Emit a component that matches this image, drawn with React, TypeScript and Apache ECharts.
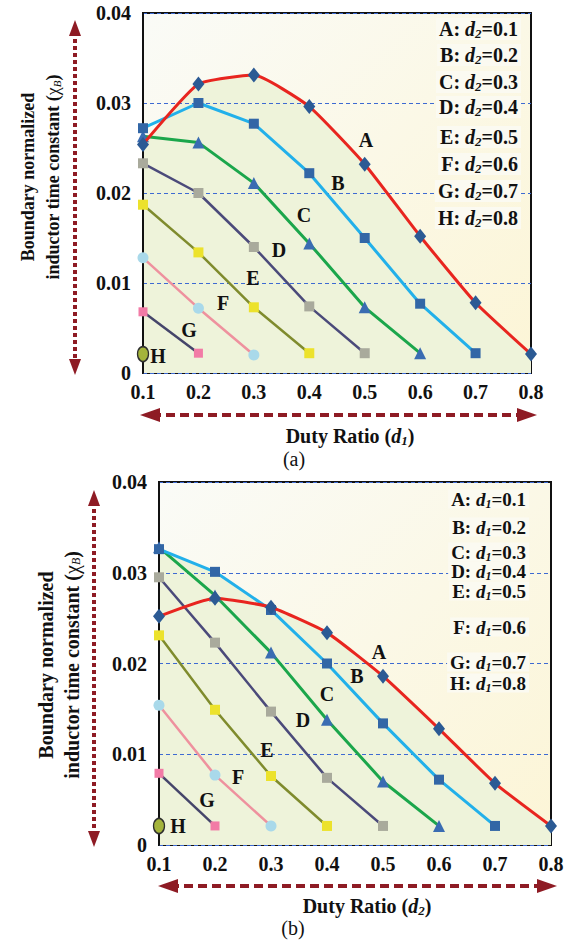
import React, { useEffect, useRef } from "react";
import * as echarts from "echarts";

// Duty ratio ticks (x axis)
const dTicks = [0.1, 0.2, 0.3, 0.4, 0.5, 0.6, 0.7, 0.8];
const curveNames = ["A", "B", "C", "D", "E", "F", "G", "H"];
const paramLabels = ["0.1", "0.2", "0.3", "0.4", "0.5", "0.6", "0.7", "0.8"];

// Chart (a): x = d1, curves by d2
const a_A = [0.0254, 0.0321, 0.0331, 0.0296, 0.0232, 0.0152, 0.0078, 0.0021];
const a_B = [0.0272, 0.03, 0.0277, 0.0222, 0.015, 0.0077, 0.0022];
const a_C = [0.0263, 0.0256, 0.0211, 0.0144, 0.0073, 0.0022];
const a_D = [0.0233, 0.02, 0.014, 0.0074, 0.0022];
const a_E = [0.0187, 0.0134, 0.0073, 0.0022];
const a_F = [0.0128, 0.0072, 0.002];
const a_G = [0.0068, 0.0022];
const a_H = [0.0021];

// Chart (b): x = d2, curves by d1
const b_A = [0.0252, 0.0272, 0.0262, 0.0234, 0.0186, 0.0128, 0.0068, 0.0021];
const b_B = [0.0326, 0.0301, 0.0259, 0.02, 0.0134, 0.0072, 0.0021];
const b_C = [0.0328, 0.0275, 0.0212, 0.0138, 0.007, 0.0021];
const b_D = [0.0295, 0.0223, 0.0147, 0.0074, 0.0021];
const b_E = [0.0231, 0.0149, 0.0076, 0.0021];
const b_F = [0.0154, 0.0077, 0.0021];
const b_G = [0.0079, 0.0021];
const b_H = [0.0021];

const chartA = [a_A, a_B, a_C, a_D, a_E, a_F, a_G, a_H];
const chartB = [b_A, b_B, b_C, b_D, b_E, b_F, b_G, b_H];

const SERIF = "'Liberation Serif', 'Times New Roman', serif";

const lineColors = ["#e8251f", "#22b0ea", "#1ba64b", "#4b4a7a", "#7f8b2d", "#ee919e", "#45456a", "#45456a"];
const lineWidths = [3, 3, 3, 2.5, 2.5, 2.5, 2.5, 2.5];
const markerStyles: any[] = [
  { symbol: "diamond", size: [12, 15], color: "#2b5a94" },
  { symbol: "rect", size: 10, color: "#3266a6" },
  { symbol: "triangle", size: 12, color: "#3a6cb2" },
  { symbol: "rect", size: 10, color: "#a9aa9c" },
  { symbol: "rect", size: 10, color: "#ece22c" },
  { symbol: "circle", size: 11, color: "#a9d9ea" },
  { symbol: "rect", size: 9, color: "#f27ba6" },
  { symbol: "circle", size: [11, 15], color: "#a4b43b", border: "#2e2e2e" },
];

function buildSeries(values: number[][], gridIdx: number, areaUnder: number[]) {
  const out: any[] = [];
  areaUnder.forEach((k) => {
    out.push({
      type: "line",
      xAxisIndex: gridIdx,
      yAxisIndex: gridIdx,
      data: values[k].map((v, i) => [dTicks[i], v]),
      smooth: k === 0 ? 0.15 : false,
      symbol: "none",
      lineStyle: { width: 0 },
      areaStyle: { color: "#eef3da", opacity: 1 },
      silent: true,
      z: 1,
    });
  });
  values.forEach((vals, k) => {
    const m = markerStyles[k];
    out.push({
      type: "line",
      name: curveNames[k] + gridIdx,
      xAxisIndex: gridIdx,
      yAxisIndex: gridIdx,
      data: vals.map((v, i) => [dTicks[i], v]),
      smooth: k === 0 ? 0.15 : false,
      clip: false,
      symbol: m.symbol,
      symbolSize: m.size,
      showSymbol: true,
      lineStyle: { color: lineColors[k], width: lineWidths[k] },
      itemStyle: {
        color: m.color,
        borderColor: m.border || m.color,
        borderWidth: m.border ? 1.5 : 0,
      },
      z: 3 + (7 - k),
    });
  });
  return out;
}

function legendText(k: number, sub: string) {
  return `{b|${curveNames[k]}: }{i|d}{s|${sub}}{b|=${paramLabels[k]}}`;
}

function legendRich(fs: number, lh: number) {
  return {
    b: { fontFamily: SERIF, fontWeight: "bold", fontSize: fs, fill: "#111", lineHeight: lh },
    i: { fontFamily: SERIF, fontWeight: "bold", fontStyle: "italic", fontSize: fs, fill: "#111", lineHeight: lh },
    s: { fontFamily: SERIF, fontWeight: "bold", fontStyle: "italic", fontSize: Math.round(fs * 0.65), fill: "#111", lineHeight: lh, padding: [Math.round(fs * 0.45), 0, 0, 0] },
  };
}

function txt(x: number, y: number, text: string, extra: any = {}, styleExtra: any = {}) {
  return {
    type: "text",
    x,
    y,
    z: 100,
    ...extra,
    style: {
      text,
      fontFamily: SERIF,
      fontWeight: "bold",
      fontSize: 20,
      fill: "#111",
      align: "center",
      textAlign: "center",
      verticalAlign: "middle",
      textVerticalAlign: "middle",
      ...styleExtra,
    },
  };
}

const arrowColor = "#8e1b24";

function vArrow(x: number, y1: number, y2: number) {
  return [
    { type: "line", z: 50, shape: { x1: x, y1: y1 + 12, x2: x, y2: y2 - 12 }, style: { stroke: arrowColor, lineWidth: 4, lineDash: [4, 3] } },
    { type: "polygon", z: 50, shape: { points: [[x, y1], [x - 6, y1 + 16], [x + 6, y1 + 16]] }, style: { fill: arrowColor } },
    { type: "polygon", z: 50, shape: { points: [[x, y2], [x - 6, y2 - 16], [x + 6, y2 - 16]] }, style: { fill: arrowColor } },
  ];
}

function hArrow(y: number, x1: number, x2: number) {
  return [
    { type: "line", z: 50, shape: { x1: x1 + 12, y1: y, x2: x2 - 12, y2: y }, style: { stroke: arrowColor, lineWidth: 4, lineDash: [9, 5] } },
    { type: "polygon", z: 50, shape: { points: [[x1, y], [x1 + 20, y - 7], [x1 + 20, y + 7]] }, style: { fill: arrowColor } },
    { type: "polygon", z: 50, shape: { points: [[x2, y], [x2 - 20, y - 7], [x2 - 20, y + 7]] }, style: { fill: arrowColor } },
  ];
}

function yTitle(x1: number, x2: number, y: number, fs: number) {
  const rich = {
    c: { fontFamily: SERIF, fontSize: fs, fill: "#111", lineHeight: fs + 2 },
    cs: { fontFamily: SERIF, fontStyle: "italic", fontSize: Math.round(fs * 0.62), fill: "#111", lineHeight: fs + 2, padding: [Math.round(fs * 0.4), 0, 0, 0] },
    n: { fontFamily: SERIF, fontWeight: "bold", fontSize: fs, fill: "#111", lineHeight: fs + 2 },
  };
  return [
    txt(x1, y, "Boundary normalized", { rotation: Math.PI / 2 }, { fontSize: fs }),
    txt(x2, y, "{n|inductor time constant (}{c|χ}{cs|B}{n|)}", { rotation: Math.PI / 2 }, { fontSize: fs, rich }),
  ];
}

function xTitle(x: number, y: number, sub: string) {
  const rich = {
    n: { fontFamily: SERIF, fontWeight: "bold", fontSize: 20, fill: "#111", lineHeight: 22 },
    i: { fontFamily: SERIF, fontWeight: "bold", fontStyle: "italic", fontSize: 20, fill: "#111", lineHeight: 22 },
    s: { fontFamily: SERIF, fontWeight: "bold", fontStyle: "italic", fontSize: 13, fill: "#111", lineHeight: 22, padding: [9, 0, 0, 0] },
  };
  return txt(x, y, `{n|Duty Ratio (}{i|d}{s|${sub}}{n|)}`, {}, { rich });
}

const legendYA = [29, 55, 82, 107, 137, 164, 191, 218];
const legendYB = [499, 527, 552, 571, 591, 627, 662, 683];
const curveLabelA = [[366, 140], [338, 183], [304, 215], [279, 250], [253, 278], [223, 303], [189, 330], [158, 356]];
const curveLabelB = [[379, 652], [357, 676], [327, 694], [303, 720], [267, 750], [238, 777], [207, 800], [178, 826]];

function axisPair(idx: number) {
  const x = {
    type: "value",
    gridIndex: idx,
    min: 0.1,
    max: 0.8,
    interval: 0.1,
    axisLine: { show: true, lineStyle: { color: "#111", width: 2 } },
    axisTick: { show: false },
    splitLine: { show: false },
    axisLabel: {
      formatter: (v: number) => v.toFixed(1),
      fontFamily: SERIF,
      fontWeight: "bold",
      fontSize: 20,
      color: "#111",
      margin: 9,
    },
  };
  const y = {
    type: "value",
    gridIndex: idx,
    min: 0,
    max: 0.04,
    interval: 0.01,
    z: 2,
    axisLine: { show: true, lineStyle: { color: "#111", width: 2 } },
    axisTick: { show: false },
    splitLine: { show: true, lineStyle: { color: "#3d6ad2", width: 1, type: [4, 3] } },
    axisLabel: {
      formatter: (v: number) => (v === 0 ? "0" : v.toFixed(2)),
      fontFamily: SERIF,
      fontWeight: "bold",
      fontSize: 20,
      color: "#111",
      margin: 12,
    },
  };
  return { x, y };
}

export default function App() {
  const ref = useRef<HTMLDivElement>(null);
  useEffect(() => {
    if (!ref.current) return;
    const chart = echarts.init(ref.current, undefined, { renderer: "svg" });
    const a0 = axisPair(0);
    const a1 = axisPair(1);
    const gridBg = {
      type: "linear",
      x: 0,
      y: 0,
      x2: 1,
      y2: 1,
      colorStops: [
        { offset: 0, color: "#fafbf7" },
        { offset: 1, color: "#fcf5d6" },
      ],
    };
    const graphics: any[] = [];
    const richA = legendRich(20, 22);
    const richB = legendRich(19, 19);
    curveNames.forEach((_, k) => {
      graphics.push(txt(521, legendYA[k], legendText(k, "2"), {}, { align: "right", textAlign: "right", rich: richA, backgroundColor: "#fbfaf1", padding: [0, 3] }));
      graphics.push(txt(529, legendYB[k], legendText(k, "1"), {}, { align: "right", textAlign: "right", rich: richB, backgroundColor: "#fbfaf1", padding: [0, 3] }));
      graphics.push(txt(curveLabelA[k][0], curveLabelA[k][1], curveNames[k]));
      graphics.push(txt(curveLabelB[k][0], curveLabelB[k][1], curveNames[k]));
    });
    graphics.push(...yTitle(28, 53, 177, 18));
    graphics.push(...yTitle(46, 72, 665, 20));
    graphics.push(xTitle(350, 436, "1"));
    graphics.push(xTitle(367, 906, "2"));
    graphics.push(...vArrow(75, 20, 375));
    graphics.push(...vArrow(94, 490, 847));
    graphics.push(...hArrow(415, 140, 537));
    graphics.push(...hArrow(886, 158, 557));
    graphics.push(txt(294, 459, "(a)", {}, { fontWeight: "normal", fontSize: 20 }));
    graphics.push(txt(293, 928, "(b)", {}, { fontWeight: "normal", fontSize: 20 }));

    chart.setOption({
      animation: false,
      backgroundColor: "#ffffff",
      grid: [
        { left: 143, top: 13, width: 388, height: 360, show: true, backgroundColor: gridBg, borderColor: "#111", borderWidth: 2 },
        { left: 159, top: 482, width: 392, height: 363, show: true, backgroundColor: gridBg, borderColor: "#111", borderWidth: 2 },
      ],
      xAxis: [a0.x, a1.x],
      yAxis: [a0.y, a1.y],
      series: [...buildSeries(chartA, 0, [0]), ...buildSeries(chartB, 1, [0, 1, 2])],
      graphic: graphics,
    });
    return () => chart.dispose();
  }, []);
  return <div ref={ref} style={{ position: "absolute", left: 0, top: 0, width: 571, height: 940 }} />;
}
